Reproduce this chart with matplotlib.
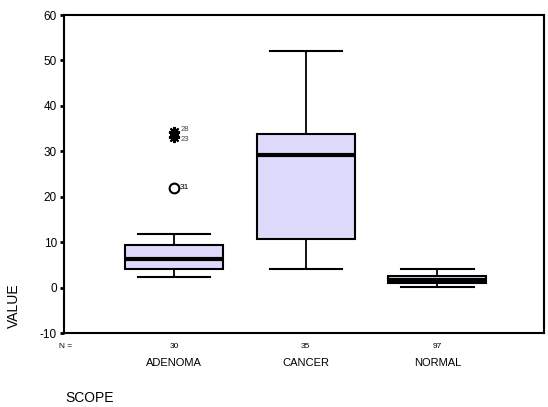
import matplotlib
matplotlib.use("Agg")
import matplotlib.pyplot as plt
import matplotlib.transforms as mtransforms

plt.rcParams['font.family'] = ['Liberation Sans', 'DejaVu Sans']

# data
groups = ["ADENOMA", "CANCER", "NORMAL"]
counts = [30, 35, 97]
whislo = [2.3, 4.0, 0.1]
q1 = [4.0, 10.6, 1.0]
med = [6.2, 29.1, 1.7]
q3 = [9.3, 33.9, 2.5]
whishi = [11.9, 52.0, 4.1]

# outliers (circles) and extremes (asterisks) of ADENOMA
out_group = [1]
out_vals = [22.0]
out_ids = ["31"]
ext_group = [1, 1]
ext_vals = [34.2, 33.1]
ext_ids = ["28", "23"]

yticks = [-10, 0, 10, 20, 30, 40, 50, 60]

fig = plt.figure(figsize=(5.48, 4.07), dpi=100)
ax = fig.add_axes([0.1168, 0.1818, 0.9927 - 0.1168, 0.963 - 0.1818])

stats = []
for i in range(len(groups)):
    stats.append({"whislo": whislo[i], "q1": q1[i], "med": med[i],
                  "q3": q3[i], "whishi": whishi[i], "fliers": []})

pos = [1, 2, 3]
ax.bxp(stats, positions=pos, widths=0.745, patch_artist=True, showfliers=False,
       boxprops=dict(facecolor="#DCD9FA", edgecolor="black", linewidth=1.5),
       medianprops=dict(color="black", linewidth=3),
       whiskerprops=dict(color="black", linewidth=1.3),
       capprops=dict(color="black", linewidth=1.5),
       capwidths=0.55)

ax.plot(out_group, out_vals, linestyle="none", marker="o", markersize=7,
        markerfacecolor="white", markeredgecolor="black", markeredgewidth=1.5)
ax.plot(ext_group, ext_vals, linestyle="none", marker=(8, 2, 0), markersize=8,
        color="black", markeredgewidth=1.5)
for g, v, t in zip(out_group, out_vals, out_ids):
    ax.text(g + 0.045, v, t, fontsize=6, va="center", ha="left")
# the two extreme labels sit just above / below their points
offs = [0.5, -0.5]
for g, v, t, o in zip(ext_group, ext_vals, ext_ids, offs):
    ax.text(g + 0.045, v + o, t, fontsize=5.5, va="center", ha="left",
            color="#444444")

ax.set_xlim(0.163, 3.81)
ax.set_ylim(-10, 60)
ax.set_yticks(yticks)
ax.set_yticklabels([str(t) for t in yticks], fontsize=8.5)
ax.set_xticks(pos)
ax.set_xticklabels([str(c) for c in counts], fontsize=6)
ax.tick_params(axis="y", direction="out", length=3, width=2, pad=2)
ax.tick_params(axis="x", direction="out", length=0, pad=7)
for s in ax.spines.values():
    s.set_linewidth(1.5)

trans = mtransforms.blended_transform_factory(ax.transData, fig.transFigure)
for p, g in zip(pos, groups):
    ax.text(p, 1 - 363 / 407, g, transform=trans, fontsize=8,
            ha="center", va="center")

fig.text(66 / 548, 1 - 346 / 407, "N =", fontsize=6, ha="center", va="center")
fig.text(14 / 548, 1 - 306 / 407, "VALUE", fontsize=10, rotation=90,
         ha="center", va="center")
fig.text(65 / 548, 1 - 398 / 407, "SCOPE", fontsize=10, ha="left", va="center")

fig.savefig("out.png", dpi=100)
